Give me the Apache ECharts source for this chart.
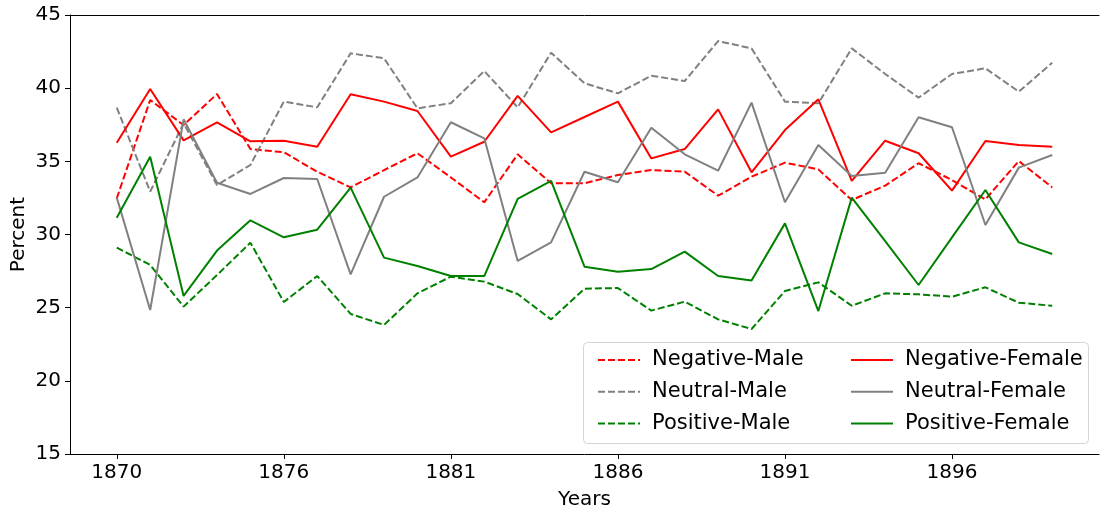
<!DOCTYPE html>
<html>
<head>
<meta charset="utf-8">
<script src="https://cdn.jsdelivr.net/npm/echarts@6/dist/echarts.min.js"></script>
<style>
  html, body { margin: 0; padding: 0; background: #fff; }
  #chart { width: 1100px; height: 511px; }
</style>
</head>
<body>
<div id="chart"></div>
<script>
const years = [
  '1870', '1871', '1872', '1873', '1874', '1876', '1877', '1878', '1879', '1880',
  '1881', '1882', '1883', '1884', '1885', '1886', '1887', '1888', '1889', '1890',
  '1891', '1892', '1893', '1894', '1895', '1896', '1897', '1898', '1899',
]
const tickIndex = [0, 5, 10, 15, 20, 25]

const negativeMale = [32.47, 39.19, 37.48, 39.6, 35.84, 35.62, 34.29, 33.22, 34.4, 35.55, 33.9, 32.2, 35.48, 33.5, 33.5, 34.07, 34.4, 34.3, 32.65, 33.95, 34.91, 34.45, 32.36, 33.34, 34.87, 33.72, 32.4, 35.02, 33.22]
const negativeFemale = [36.27, 39.94, 36.43, 37.67, 36.37, 36.41, 36.0, 39.58, 39.08, 38.44, 35.32, 36.34, 39.47, 36.98, 38.03, 39.08, 35.2, 35.84, 38.55, 34.25, 37.14, 39.24, 33.66, 36.41, 35.55, 33.0, 36.39, 36.12, 36.0]
const neutralMale = [38.67, 32.93, 37.6, 33.38, 34.75, 39.08, 38.69, 42.38, 42.04, 38.62, 38.97, 41.17, 38.69, 42.42, 40.33, 39.65, 40.85, 40.49, 43.22, 42.72, 39.08, 38.97, 42.72, 40.97, 39.35, 40.97, 41.36, 39.76, 41.74]
const neutralFemale = [32.52, 24.84, 37.87, 33.54, 32.77, 33.86, 33.79, 27.28, 32.58, 33.9, 37.67, 36.57, 28.19, 29.46, 34.29, 33.57, 37.3, 35.48, 34.36, 39.01, 32.2, 36.12, 34.0, 34.22, 38.01, 37.33, 30.65, 34.57, 35.43]
const positiveMale = [29.1, 27.92, 25.07, 27.23, 29.44, 25.39, 27.16, 24.57, 23.82, 25.98, 27.12, 26.78, 25.93, 24.2, 26.3, 26.34, 24.8, 25.41, 24.2, 23.54, 26.14, 26.73, 25.13, 25.98, 25.91, 25.75, 26.39, 25.34, 25.13]
const positiveFemale = [31.15, 35.32, 25.8, 28.9, 30.97, 29.81, 30.33, 33.2, 28.42, 27.85, 27.16, 27.16, 32.43, 33.66, 27.8, 27.46, 27.64, 28.83, 27.16, 26.85, 30.76, 24.77, 32.52, 29.54, 26.55, 29.8, 33.04, 29.46, 28.67]

const font = 'DejaVu Sans'

function lineSeries(name, values, color, dashed) {
  return {
    name,
    type: 'line',
    symbol: 'none',
    animation: false,
    lineStyle: { width: 2, color, type: dashed ? [7, 3] : 'solid' },
    itemStyle: { color },
    data: values.map((v, i) => [i, v]),
  }
}

function legendColumn(left, names) {
  return {
    orient: 'vertical',
    left,
    top: 344,
    itemWidth: 42,
    itemHeight: 14,
    itemGap: 9.7,
    data: names,
    // hide the circle marker, keep only the line sample
    itemStyle: { opacity: 0 },
    textStyle: {
      fontFamily: font,
      fontSize: 21,
      lineHeight: 22,
      color: '#000',
      padding: [0, 0, 0, 7],
    },
    z: 20,
  }
}

const chart = echarts.init(document.getElementById('chart'))

chart.setOption({
  backgroundColor: '#fff',
  animation: false,
  grid: { left: 70, right: 1, top: 15, bottom: 57, outerBoundsMode: 'none', containLabel: false },
  xAxis: [
    {
      type: 'value',
      min: -1.4,
      max: 29.4,
      name: 'Years',
      nameLocation: 'middle',
      nameGap: 36,
      nameMoveOverlap: false,
      nameTextStyle: { fontFamily: font, fontSize: 20, color: '#000' },
      axisLine: { show: true, onZero: false, lineStyle: { color: '#000', width: 1 } },
      axisTick: { show: true, length: 5, customValues: tickIndex, lineStyle: { color: '#000' } },
      axisLabel: {
        customValues: tickIndex,
        margin: 9,
        fontFamily: font,
        fontSize: 20,
        color: '#000',
        formatter: (v) => years[v],
      },
      splitLine: { show: false },
    },
    {
      type: 'value',
      position: 'top',
      min: -1.4,
      max: 29.4,
      axisLine: { show: true, onZero: false, lineStyle: { color: '#000', width: 1 } },
      axisTick: { show: false },
      axisLabel: { show: false },
      splitLine: { show: false },
    },
  ],
  yAxis: {
    type: 'value',
    min: 15,
    max: 45,
    interval: 5,
    name: 'Percent',
    nameLocation: 'middle',
    nameGap: 41,
    nameMoveOverlap: false,
    nameTextStyle: { fontFamily: font, fontSize: 20, color: '#000' },
    axisLine: { show: true, onZero: false, lineStyle: { color: '#000', width: 1 } },
    axisTick: { show: true, length: 5, lineStyle: { color: '#000' } },
    axisLabel: { margin: 9, fontFamily: font, fontSize: 20, color: '#000' },
    splitLine: { show: false },
  },
  legend: [
    legendColumn(592, ['Negative-Male', 'Neutral-Male', 'Positive-Male']),
    legendColumn(845, ['Negative-Female', 'Neutral-Female', 'Positive-Female']),
  ],
  graphic: [
    {
      type: 'rect',
      z: 10,
      shape: { x: 583.5, y: 342.5, width: 505, height: 101, r: 4 },
      style: { fill: 'rgba(255,255,255,0.8)', stroke: '#d5d5d5', lineWidth: 1 },
    },
  ],
  series: [
    lineSeries('Negative-Male', negativeMale, '#ff0000', true),
    lineSeries('Neutral-Male', neutralMale, '#808080', true),
    lineSeries('Positive-Male', positiveMale, '#008000', true),
    lineSeries('Negative-Female', negativeFemale, '#ff0000', false),
    lineSeries('Neutral-Female', neutralFemale, '#808080', false),
    lineSeries('Positive-Female', positiveFemale, '#008000', false),
  ],
})
</script>
</body>
</html>
